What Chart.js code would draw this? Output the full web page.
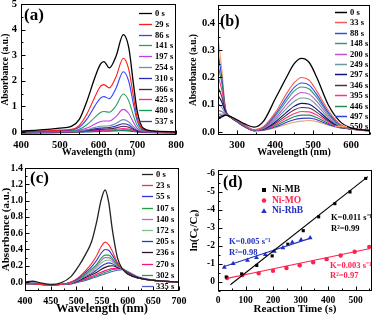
<!DOCTYPE html>
<html><head><meta charset="utf-8">
<script src="https://cdn.jsdelivr.net/npm/chart.js@4/dist/chart.umd.min.js"></script>
<style>
html,body{margin:0;padding:0;background:#fff;}
#wrap{position:relative;width:376px;height:316px;overflow:hidden;background:#fff;}
canvas{position:absolute;}
</style></head><body>
<div id="wrap">
<canvas id="ca" width="188" height="158" style="left:0;top:0"></canvas>
<canvas id="cb" width="188" height="158" style="left:188px;top:0"></canvas>
<canvas id="cc" width="188" height="158" style="left:0;top:158px"></canvas>
<canvas id="cd" width="188" height="158" style="left:188px;top:158px"></canvas>
</div>
<script>
// ---------- Panel (a): Ni-MB spectra ----------
const aWave = [400,450,500,530,550,570,590,605,614,628,645,664,678,690,700,715,740,800];
const aLabels = ['0 s','29 s','86 s','141 s','197 s','254 s','310 s','366 s','425 s','480 s','537 s'];
const aAbs = [
  [0.03,0.08,0.15,0.22,0.48,1.2,2.1,2.65,2.75,2.5,2.95,3.8,3.3,1.9,0.8,0.15,0.04,0.0],
  [0.0,0.03,0.07,0.1,0.25,0.7,1.35,1.78,1.85,1.72,2.15,2.88,2.45,1.4,0.55,0.1,0.02,0],
  [0,0.02,0.05,0.08,0.18,0.5,1.0,1.32,1.38,1.3,1.7,2.35,1.98,1.1,0.42,0.08,0.02,0],
  [0,0.01,0.03,0.05,0.1,0.28,0.56,0.76,0.8,0.77,1.02,1.48,1.22,0.65,0.25,0.05,0.01,0],
  [0,0,0.02,0.03,0.06,0.15,0.3,0.41,0.43,0.43,0.6,0.88,0.72,0.38,0.14,0.03,0,0],
  [0,0,0.01,0.02,0.04,0.09,0.17,0.22,0.23,0.24,0.33,0.48,0.39,0.21,0.08,0.02,0,0],
  [0,0,0.01,0.02,0.03,0.07,0.12,0.15,0.16,0.17,0.23,0.32,0.27,0.14,0.06,0.01,0,0],
  [-0.02,-0.01,0,0.01,0.02,0.05,0.08,0.1,0.11,0.12,0.16,0.22,0.18,0.1,0.04,0,-0.01,-0.02],
  [-0.03,-0.02,-0.01,0,0.01,0.03,0.05,0.06,0.07,0.07,0.1,0.13,0.11,0.06,0.02,-0.01,-0.02,-0.03],
  [-0.04,-0.03,-0.02,-0.01,0,0.02,0.03,0.04,0.04,0.05,0.06,0.08,0.07,0.04,0.01,-0.01,-0.02,-0.04],
  [-0.05,-0.04,-0.03,-0.02,-0.01,0,0.01,0.02,0.03,0.03,0.04,0.05,0.04,0.02,0,-0.02,-0.03,-0.05]
];
const aXTicks = [400,500,600,700,800];
const aYTicks = [0,1,2,3,4,5];
const aColors = ['#000000','#ff1a1a','#3344ff','#2e9e62','#c040e0','#6f8fa8','#2a2ab8','#502040','#ff2090','#129a50','#2848b0'];

// ---------- Panel (b): Ni-MO spectra ----------
const bWave = [250,260,270,285,300,320,345,370,400,430,450,470,490,510,540,570,600,650];
const bLabels = ['0 s','33 s','88 s','148 s','200 s','249 s','297 s','346 s','395 s','446 s','497 s','550 s'];
const bAbs = [
  [0.05,0.056,0.062,0.055,0.045,0.03,0.018,0.04,0.12,0.2,0.25,0.27,0.255,0.2,0.1,0.04,0.015,0.005],
  [0.048,0.055,0.062,0.055,0.043,0.026,0.008,0.02,0.07,0.14,0.18,0.2,0.19,0.15,0.08,0.03,0.012,0.004],
  [0.055,0.06,0.062,0.055,0.042,0.025,0.007,0.018,0.063,0.125,0.163,0.18,0.172,0.137,0.072,0.028,0.012,0.004],
  [0.065,0.066,0.064,0.055,0.042,0.024,0.007,0.017,0.057,0.114,0.15,0.165,0.158,0.126,0.066,0.026,0.011,0.004],
  [0.08,0.075,0.065,0.054,0.041,0.023,0.006,0.015,0.05,0.1,0.13,0.145,0.139,0.112,0.06,0.024,0.011,0.004],
  [0.105,0.09,0.068,0.054,0.04,0.022,0.006,0.013,0.043,0.086,0.112,0.125,0.121,0.098,0.053,0.022,0.011,0.004],
  [0.135,0.11,0.072,0.053,0.04,0.021,0.005,0.011,0.036,0.072,0.094,0.105,0.102,0.083,0.046,0.02,0.011,0.005],
  [0.165,0.13,0.075,0.053,0.039,0.02,0.005,0.01,0.031,0.062,0.081,0.09,0.088,0.072,0.041,0.019,0.011,0.005],
  [0.205,0.155,0.078,0.052,0.038,0.02,0.005,0.009,0.026,0.052,0.067,0.075,0.074,0.062,0.036,0.018,0.011,0.005],
  [0.245,0.18,0.08,0.052,0.038,0.02,0.005,0.008,0.022,0.043,0.056,0.062,0.062,0.053,0.032,0.017,0.011,0.005],
  [0.29,0.2,0.082,0.052,0.037,0.019,0.005,0.007,0.018,0.035,0.045,0.05,0.051,0.045,0.028,0.016,0.011,0.006],
  [0.345,0.23,0.085,0.052,0.037,0.019,0.005,0.007,0.015,0.028,0.036,0.04,0.042,0.038,0.025,0.016,0.012,0.007]
];
const bXTicks = [300,400,500,600];
const bYTicks = [0,0.1,0.2,0.3,0.4];
const bColors = ['#000000','#f05a5a','#3050e0','#3a9a7a','#c050d0','#6a9a9a','#101080','#503040','#ff3090','#209050','#3040d0','#f4a070'];

// ---------- Panel (c): Ni-RhB spectra ----------
const cWave = [400,415,430,450,470,490,505,518,530,540,548,556,563,570,580,590,600,620,650,700];
const cLabels = ['0 s','23 s','55 s','107 s','140 s','172 s','205 s','236 s','270 s','302 s','335 s'];
const cAbs = [
  [0.0,0.01,-0.01,-0.03,-0.01,0.07,0.2,0.34,0.5,0.75,1.0,1.13,0.98,0.65,0.3,0.16,0.1,0.05,0.02,0.0],
  [-0.02,-0.02,-0.03,-0.035,-0.03,0.0,0.06,0.14,0.23,0.33,0.43,0.49,0.46,0.38,0.24,0.16,0.1,0.05,0.02,0],
  [-0.02,-0.02,-0.03,-0.035,-0.03,0,0.05,0.12,0.19,0.27,0.35,0.4,0.39,0.33,0.23,0.16,0.1,0.05,0.02,0],
  [-0.02,-0.02,-0.03,-0.035,-0.03,-0.005,0.04,0.1,0.16,0.22,0.29,0.33,0.33,0.29,0.21,0.16,0.1,0.05,0.02,0],
  [-0.02,-0.02,-0.03,-0.035,-0.03,-0.01,0.035,0.09,0.14,0.2,0.26,0.3,0.3,0.27,0.2,0.16,0.1,0.05,0.02,0],
  [-0.02,-0.02,-0.03,-0.035,-0.03,-0.01,0.03,0.08,0.12,0.18,0.23,0.265,0.27,0.25,0.2,0.16,0.105,0.05,0.02,0],
  [-0.02,-0.02,-0.03,-0.035,-0.03,-0.01,0.025,0.07,0.105,0.15,0.19,0.22,0.235,0.225,0.19,0.16,0.11,0.055,0.02,0],
  [-0.02,-0.02,-0.03,-0.035,-0.03,-0.015,0.02,0.055,0.09,0.12,0.155,0.18,0.195,0.2,0.18,0.16,0.115,0.055,0.02,0],
  [-0.02,-0.02,-0.03,-0.035,-0.03,-0.02,0.01,0.04,0.07,0.095,0.12,0.14,0.155,0.165,0.17,0.16,0.12,0.06,0.02,0],
  [-0.02,-0.02,-0.03,-0.035,-0.03,-0.02,0.005,0.03,0.055,0.08,0.1,0.12,0.135,0.15,0.16,0.16,0.125,0.06,0.02,0],
  [-0.01,-0.01,-0.02,-0.03,-0.03,-0.025,0,0.02,0.045,0.065,0.085,0.1,0.115,0.13,0.145,0.15,0.13,0.065,0.025,0]
];
const cXTicks = [400,450,500,550,600,650,700];
const cYTicks = [0,0.2,0.4,0.6,0.8,1.0,1.2,1.4];
const cColors = ['#222222','#ff3030','#3030e0','#20a040','#c060e0','#80c080','#2040c0','#301030','#ff1080','#20a050','#5060c0'];

// ---------- Panel (d): kinetics ----------
const mbTime = [30,86,141,197,254,310,366,425,480,537];
const mbLn   = [-0.28,-0.45,-0.92,-1.45,-2.1,-2.85,-3.62,-4.35,-5.0,-5.75];
const moTime = [33,88,148,200,249,297,346,395,446,497,550];
const moLn   = [-0.22,-0.38,-0.48,-0.62,-0.78,-0.93,-1.1,-1.27,-1.47,-1.68,-1.95];
const rhTime = [23,55,107,140,172,205,236,270,302,335];
const rhLn   = [-0.82,-1.02,-1.2,-1.35,-1.52,-1.7,-1.9,-2.2,-2.35,-2.45];
const mbFitTime = [45,545], mbFitLn = [0.15,-5.85];
const moFitTime = [33,550], moFitLn = [-0.2,-1.85];
const rhFitTime = [20,340], rhFitLn = [-0.85,-2.45];
const dXTicks = [0,100,200,300,400,500];
const dYTicks = [-6,-5,-4,-3,-2,-1,0];
const dSeries = ['Ni-MB','Ni-MO','Ni-RhB'];

// ---------- helpers ----------
const SERIF = "'Liberation Serif','Times New Roman',serif";
const F = (s) => ({family: SERIF, size: s, weight: 'bold'});

const framePlugin = {
  id: 'frame',
  afterDatasetsDraw(chart) {
    const {ctx, chartArea: a} = chart;
    const xs = chart.scales.x, ys = chart.scales.y;
    ctx.save();
    ctx.strokeStyle = '#000'; ctx.lineWidth = 1; ctx.setLineDash([]);
    const L = Math.round(a.left) + 0.5, R = Math.round(a.right) - 0.5;
    const T = Math.round(a.top) + 0.5, B = Math.round(a.bottom) - 0.5;
    ctx.strokeRect(L, T, R - L, B - T);
    ctx.beginPath();
    const xt = xs.ticks.map(t => t.value), xstep = xt[1] - xt[0];
    for (let k = -4; k <= 2 * xt.length + 4; k++) {
      const v = xt[0] + k * xstep / 2;
      if (v < xs.min - 1e-9 || v > xs.max + 1e-9) continue;
      const px = Math.round(xs.getPixelForValue(v)) + 0.5;
      const len = (k % 2 === 0) ? 4 : 2;
      ctx.moveTo(px, B); ctx.lineTo(px, B - len);
    }
    const yt = ys.ticks.map(t => t.value), ystep = yt[1] - yt[0];
    for (let k = -4; k <= 2 * yt.length + 4; k++) {
      const v = yt[0] + k * ystep / 2;
      if (v < ys.min - 1e-9 || v > ys.max + 1e-9) continue;
      const py = Math.round(ys.getPixelForValue(v)) + 0.5;
      const len = (k % 2 === 0) ? 4 : 2;
      ctx.moveTo(L, py); ctx.lineTo(L + len, py);
    }
    ctx.stroke();
    ctx.restore();
  }
};

const lineLegend = {
  id: 'lineLegend',
  afterDraw(chart, args, o) {
    if (!o || !o.show) return;
    const ctx = chart.ctx;
    ctx.save();
    ctx.font = 'bold ' + o.size + 'px ' + SERIF;
    ctx.textBaseline = 'middle'; ctx.textAlign = 'left';
    chart.data.datasets.forEach((d, i) => {
      const y = Math.round(o.y0 + i * o.dy) + 0.5;
      ctx.strokeStyle = d.borderColor; ctx.lineWidth = o.lw;
      ctx.setLineDash(d.borderDash || []);
      ctx.beginPath(); ctx.moveTo(o.x0, y); ctx.lineTo(o.x1, y); ctx.stroke();
      ctx.fillStyle = '#000';
      ctx.fillText(d.label, o.tx, y);
    });
    ctx.restore();
  }
};

const textPlugin = {
  id: 'texts',
  afterDraw(chart, args, o) {
    if (!o || !o.items) return;
    const ctx = chart.ctx;
    ctx.save();
    o.items.forEach(it => {
      ctx.font = 'bold ' + it.size + 'px ' + SERIF;
      ctx.fillStyle = it.color || '#000';
      ctx.textBaseline = 'middle'; ctx.textAlign = it.align || 'left';
      ctx.fillText(it.t, it.x, it.y);
    });
    ctx.restore();
  }
};

const markLegend = {
  id: 'markLegend',
  afterDraw(chart, args, o) {
    if (!o || !o.items) return;
    const ctx = chart.ctx;
    ctx.save();
    ctx.font = 'bold ' + o.size + 'px ' + SERIF;
    ctx.textBaseline = 'middle'; ctx.textAlign = 'left';
    o.items.forEach((it, i) => {
      const y = o.y0 + i * o.dy, x = o.mx;
      ctx.fillStyle = it.color;
      ctx.beginPath();
      if (it.style === 'rect') ctx.rect(x - 2, y - 2, 4, 4);
      else if (it.style === 'circle') ctx.arc(x, y, 2.2, 0, Math.PI * 2);
      else { ctx.moveTo(x, y - 2.8); ctx.lineTo(x + 2.8, y + 2); ctx.lineTo(x - 2.8, y + 2); ctx.closePath(); }
      ctx.fill();
      ctx.fillText(it.label, o.tx, y);
    });
    ctx.restore();
  }
};

function makeOptions(p) {
  return {
    responsive: false, animation: false, devicePixelRatio: 1,
    layout: {padding: {left: 0, right: p.right, top: p.top, bottom: 0}},
    elements: {point: {radius: 0}, line: {borderWidth: 1.1, cubicInterpolationMode: 'monotone'}},
    plugins: Object.assign({legend: {display: false}, tooltip: {enabled: false}}, p.plugins),
    scales: {
      x: {
        type: 'linear', min: p.xmin, max: p.xmax,
        grid: {display: false, drawTicks: false}, border: {display: false},
        afterBuildTicks: s => { s.ticks = p.xTicks.map(v => ({value: v})); },
        afterFit: s => { s.height = p.xh; s.paddingLeft = 0; s.paddingRight = 0; },
        ticks: {font: F(p.tickSize), color: '#000', padding: p.xPad, autoSkip: false, maxRotation: 0,
                callback: v => String(v)},
        title: {display: true, text: p.xTitle, font: F(p.xTitleSize), color: '#000', padding: 0}
      },
      y: {
        type: 'linear', min: p.ymin, max: p.ymax, reverse: !!p.reverse,
        grid: {display: false, drawTicks: false}, border: {display: false},
        afterBuildTicks: s => { s.ticks = p.yTicks.map(v => ({value: v})); },
        afterFit: s => { s.width = p.yw; s.paddingTop = 0; s.paddingBottom = 0; },
        ticks: {font: F(p.tickSize), color: '#000', padding: p.yPad, autoSkip: false,
                callback: p.yFmt},
        title: {display: true, text: p.yTitle, font: F(p.yTitleSize), color: '#000', padding: 0}
      }
    }
  };
}

function spectra(wave, labels, abs, colors) {
  return labels.map((lab, i) => ({
    label: lab,
    data: wave.map((w, j) => ({x: w, y: abs[i][j]})),
    borderColor: colors[i],
    borderWidth: i === 0 ? 1.3 : 1.1,
    pointRadius: 0
  }));
}

const pluginsAll = [framePlugin, lineLegend, textPlugin, markLegend];

// (a)
new Chart(document.getElementById('ca'), {
  type: 'line',
  data: {datasets: spectra(aWave, aLabels, aAbs, aColors)},
  options: makeOptions({
    right: 12, top: 4, xh: 23, yw: 21, xmin: 400, xmax: 800, ymin: -0.12, ymax: 5,
    xTicks: aXTicks, yTicks: aYTicks, tickSize: 10.5, xPad: 4, yPad: 4,
    xTitle: 'Wavelength (nm)', xTitleSize: 10, yTitle: 'Absorbance (a.u.)', yTitleSize: 9.5,
    yFmt: v => String(v),
    plugins: {
      lineLegend: {show: true, x0: 139, x1: 152, tx: 155, y0: 13, dy: 10.8, size: 8.5, lw: 1.3},
      texts: {items: [{t: '(a)', x: 24, y: 16, size: 17}]}
    }
  }),
  plugins: pluginsAll
});

// (b)
new Chart(document.getElementById('cb'), {
  type: 'line',
  data: {datasets: spectra(bWave, bLabels, bAbs, bColors)},
  options: makeOptions({
    right: 6, top: 5, xh: 23, yw: 30, xmin: 250, xmax: 650, ymin: -0.011, ymax: 0.466,
    xTicks: bXTicks, yTicks: bYTicks, tickSize: 10.5, xPad: 4, yPad: 3,
    xTitle: 'Wavelength (nm)', xTitleSize: 10, yTitle: 'Absorbance (a.u.)', yTitleSize: 9.5,
    yFmt: v => v.toFixed(1),
    plugins: {
      lineLegend: {show: true, x0: 147, x1: 159, tx: 162, y0: 12, dy: 10.4, size: 8.5, lw: 1.5},
      texts: {items: [{t: '(b)', x: 32, y: 22, size: 16}]}
    }
  }),
  plugins: pluginsAll
});

// (c)
new Chart(document.getElementById('cc'), {
  type: 'line',
  data: {datasets: spectra(cWave, cLabels, cAbs, cColors)},
  options: makeOptions({
    right: 9, top: 10, xh: 25, yw: 25, xmin: 400, xmax: 700, ymin: -0.11, ymax: 1.4,
    xTicks: cXTicks, yTicks: cYTicks, tickSize: 10, xPad: 4, yPad: 2,
    xTitle: 'Wavelength (nm)', xTitleSize: 12.5, yTitle: 'Absorbance (a.u.)', yTitleSize: 11,
    yFmt: v => v.toFixed(1),
    plugins: {
      lineLegend: {show: true, x0: 142, x1: 153, tx: 156, y0: 16, dy: 11.2, size: 8.5, lw: 1.3},
      texts: {items: [{t: '(c)', x: 30, y: 21, size: 17}]}
    }
  }),
  plugins: pluginsAll
});

// (d)
const pts = (t, v) => t.map((x, i) => ({x: x, y: v[i]}));
new Chart(document.getElementById('cd'), {
  type: 'line',
  data: {datasets: [
    {label: dSeries[0] + ' fit', data: pts(mbFitTime, mbFitLn), borderColor: '#000', borderWidth: 1.1, pointRadius: 0},
    {label: dSeries[1] + ' fit', data: pts(moFitTime, moFitLn), borderColor: '#ff2050', borderWidth: 1.1, pointRadius: 0},
    {label: dSeries[2] + ' fit', data: pts(rhFitTime, rhFitLn), borderColor: '#2030c0', borderWidth: 1.1, pointRadius: 0},
    {label: dSeries[0], data: pts(mbTime, mbLn), showLine: false, pointStyle: 'rect', pointRadius: 2.2,
     backgroundColor: '#000', borderColor: '#000', borderWidth: 0},
    {label: dSeries[1], data: pts(moTime, moLn), showLine: false, pointStyle: 'circle', pointRadius: 2.2,
     backgroundColor: '#ff2050', borderColor: '#ff2050', borderWidth: 0},
    {label: dSeries[2], data: pts(rhTime, rhLn), showLine: false, pointStyle: 'triangle', pointRadius: 2.8,
     backgroundColor: '#2030c0', borderColor: '#2030c0', borderWidth: 0}
  ]},
  options: makeOptions({
    right: 2, top: 12, xh: 25, yw: 30, xmin: 0, xmax: 560, ymin: -6.22, ymax: 0.5, reverse: true,
    xTicks: dXTicks, yTicks: dYTicks, tickSize: 9.5, xPad: 4, yPad: 3,
    xTitle: 'Reaction Time (s)', xTitleSize: 11, yTitle: 'ln(C\u209C/C\u2080)', yTitleSize: 11,
    yFmt: v => String(v),
    plugins: {
      markLegend: {mx: 76, tx: 84, y0: 32, dy: 10.5, size: 9.5, items: [
        {label: 'Ni-MB', color: '#000', style: 'rect'},
        {label: 'Ni-MO', color: '#ff2050', style: 'circle'},
        {label: 'Ni-RhB', color: '#2030c0', style: 'triangle'}
      ]},
      texts: {items: [
        {t: '(d)', x: 35, y: 25, size: 16},
        {t: 'K=0.011 s\u207B\u00B9', x: 143, y: 60, size: 8.5, color: '#000'},
        {t: 'R\u00B2=0.99', x: 143, y: 71, size: 8.5, color: '#000'},
        {t: 'K=0.005 s\u207B\u00B9', x: 41, y: 84, size: 8.5, color: '#2030c0'},
        {t: 'R\u00B2=0.98', x: 41, y: 95, size: 8.5, color: '#2030c0'},
        {t: 'K=0.003 s\u207B\u00B9', x: 142, y: 108, size: 8.5, color: '#ff2050'},
        {t: 'R\u00B2=0.97', x: 142, y: 118, size: 8.5, color: '#ff2050'}
      ]}
    }
  }),
  plugins: pluginsAll
});
</script>
</body></html>
